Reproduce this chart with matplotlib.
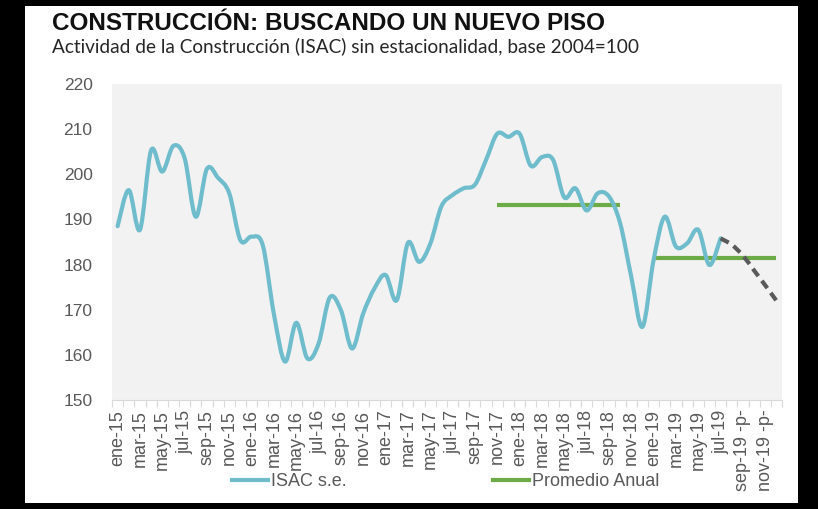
import numpy as np
import matplotlib
matplotlib.use('Agg')
import matplotlib.pyplot as plt
from matplotlib.path import Path
from matplotlib.patches import PathPatch, Rectangle
from matplotlib.lines import Line2D

# ISAC s.e., monthly from ene-15 to jul-19
isac = [188.5, 196.5, 187.7, 205.3, 200.6, 206.3, 203.6, 190.6, 201.2, 199.2,
        195.8, 185.4, 186.2, 184.3, 169.0, 158.5, 167.1, 159.2, 162.5, 172.7,
        169.9, 161.4, 169.2, 174.7, 177.7, 172.1, 184.8, 180.6, 184.6, 192.9,
        195.4, 196.9, 197.7, 203.2, 209.0, 208.3, 209.0, 201.9, 203.8, 203.2,
        194.9, 196.9, 192.0, 195.8, 195.1, 189.2, 177.3, 166.2, 181.0, 190.6,
        184.0, 184.7, 187.7, 179.9, 185.8]
# projection jul-19 .. dic-19 (-p-)
proyeccion = [185.8, 184.4, 182.0, 178.7, 175.4, 172.0]
proy_inicio = 54

# annual averages (value, first month index, last month index)
promedio_vals = [193.2, 181.4]
promedio_desde = [34, 48]
promedio_hasta = [45, 59]

tick_labels = ['ene-15', 'mar-15', 'may-15', 'jul-15', 'sep-15', 'nov-15',
               'ene-16', 'mar-16', 'may-16', 'jul-16', 'sep-16', 'nov-16',
               'ene-17', 'mar-17', 'may-17', 'jul-17', 'sep-17', 'nov-17',
               'ene-18', 'mar-18', 'may-18', 'jul-18', 'sep-18', 'nov-18',
               'ene-19', 'mar-19', 'may-19', 'jul-19', 'sep-19 -p-', 'nov-19 -p-']
n_meses = 60

AZUL = '#6fbdcc'
VERDE = '#6cab45'
GRIS = '#595959'


def smooth_path(xs, ys):
    # Excel-like smoothed line: catmull-rom tangents as bezier segments
    pts = np.column_stack([xs, ys]).astype(float)
    ext = np.vstack([pts[0], pts, pts[-1]])
    verts = [pts[0]]
    codes = [Path.MOVETO]
    for i in range(len(pts) - 1):
        p0, p1, p2, p3 = ext[i], ext[i + 1], ext[i + 2], ext[i + 3]
        verts += [p1 + (p2 - p0) / 6, p2 - (p3 - p1) / 6, p2]
        codes += [Path.CURVE4] * 3
    return Path(verts, codes)


fig = plt.figure(figsize=(8.18, 5.09), dpi=100, facecolor='black')
fig.add_artist(Rectangle((25 / 818, 6 / 509), 773 / 818, 497 / 509,
                         transform=fig.transFigure, facecolor='white',
                         edgecolor='none', zorder=-1))

ax = fig.add_axes([112 / 818, 109 / 509, 670 / 818, 316 / 509])
ax.set_facecolor('#f2f2f2')
ax.set_xlim(-0.5, n_meses - 0.5)
ax.set_ylim(150, 220)

ax.add_patch(PathPatch(smooth_path(np.arange(len(isac)), isac), fill=False,
                       edgecolor=AZUL, lw=3, capstyle='round', joinstyle='round', zorder=3))
ax.add_patch(PathPatch(smooth_path(np.arange(proy_inicio, proy_inicio + len(proyeccion)), proyeccion),
                       fill=False, edgecolor='#5a5a5a', lw=3, linestyle=(0, (2.2, 1.4)), zorder=4))
for v, a, b in zip(promedio_vals, promedio_desde, promedio_hasta):
    ax.plot([a, b], [v, v], color=VERDE, lw=3, solid_capstyle='butt', zorder=2)

for s in ['left', 'right', 'top']:
    ax.spines[s].set_visible(False)
ax.spines['bottom'].set_color('#d9d9d9')

ax.set_yticks(np.arange(150, 221, 10))
ax.tick_params(axis='y', length=0, pad=14, labelsize=12.5, labelcolor=GRIS)
for t in ax.get_yticklabels():
    t.set_family('Liberation Sans')

ax.set_xticks(np.arange(-0.5, n_meses, 1))
ax.set_xticklabels([])
ax.tick_params(axis='x', which='major', length=5, color='#d9d9d9', direction='out')
ax.set_xticks(np.arange(0, n_meses, 2), minor=True)
ax.set_xticklabels(tick_labels, minor=True, rotation=90, fontsize=13,
                   color=GRIS, family='Liberation Sans')
ax.tick_params(axis='x', which='minor', length=0, pad=7)

handles = [Line2D([], [], color=AZUL, lw=3), Line2D([], [], color=VERDE, lw=3)]
leg = fig.legend(handles, ['ISAC s.e.', 'Promedio Anual'], loc='center left',
                 bbox_to_anchor=(232 / 818, 27 / 509), ncol=2, frameon=False,
                 prop={'family': 'Liberation Sans', 'size': 13},
                 handlelength=2.0, handletextpad=0.15, columnspacing=8.1,
                 borderpad=0, borderaxespad=0)
for t in leg.get_texts():
    t.set_color(GRIS)

fig.text(52 / 818, 1 - 30 / 509, 'CONSTRUCCIÓN: BUSCANDO UN NUEVO PISO',
         fontsize=17.5, fontweight='bold', family='Liberation Sans', va='baseline', color='#111111')
fig.text(52 / 818, 1 - 52 / 509, 'Actividad de la Construcción (ISAC) sin estacionalidad, base 2004=100',
         fontsize=13.7, family='Lato', va='baseline', color='#262626')

fig.savefig('out.png', dpi=100, facecolor=fig.get_facecolor())
